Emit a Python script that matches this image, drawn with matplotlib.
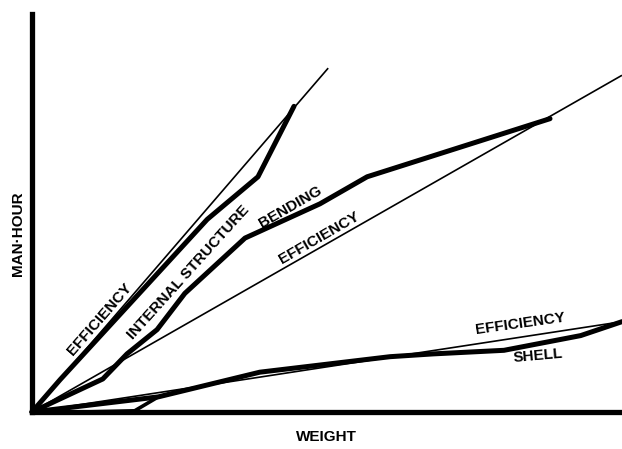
import matplotlib
matplotlib.use("Agg")
import matplotlib.pyplot as plt

# Data (weight vs man-hour, arbitrary units 0-100)
int_eff_x = [0, 50.2]
int_eff_y = [0, 86.4]
int_x = [0, 4.75, 29.7, 38.3, 44.4]
int_y = [0, 8.1, 48.4, 59.1, 76.8]

bend_eff_x = [0, 100]
bend_eff_y = [0, 84.6]
bend_x = [0, 12.0, 16.1, 21.2, 25.9, 36.1, 48.8, 56.8, 87.8]
bend_y = [0, 8.3, 14.6, 20.7, 29.8, 43.7, 52.3, 59.1, 73.7]

shell_eff_x = [0, 100]
shell_eff_y = [0, 22.7]
shell_x = [0, 21.4, 38.6, 60.7, 68, 80, 93, 100]
shell_y = [0, 3.8, 10.0, 13.9, 14.6, 15.5, 19.2, 22.7]
shell_base_x = [8.5, 17.4, 21.4]
shell_base_y = [0.0, 0.3, 3.8]

W, H = 622, 449
fig = plt.figure(figsize=(W / 100, H / 100), dpi=100)
ax = fig.add_axes([32 / W, (H - 412) / H, 590 / W, (412 - 14) / H])
ax.set_xlim(0, 100)
ax.set_ylim(0, 100)

thin = dict(color="black", lw=1.2, clip_on=False, solid_capstyle="butt")
thick = dict(color="black", lw=3.6, clip_on=False, solid_capstyle="round",
             solid_joinstyle="round")

ax.plot(int_eff_x, int_eff_y, **thin)
ax.plot(int_x, int_y, **thick)
ax.plot(bend_eff_x, bend_eff_y, **thin)
ax.plot(bend_x, bend_y, **thick)
ax.plot(shell_eff_x, shell_eff_y, **thin)
ax.plot(shell_x, shell_y, **thick)
ax.plot(shell_base_x, shell_base_y, color="black", lw=2.6, clip_on=False,
        solid_capstyle="round")

for s in ["top", "right"]:
    ax.spines[s].set_visible(False)
for s in ["left", "bottom"]:
    ax.spines[s].set_linewidth(3.8)
ax.set_xticks([])
ax.set_yticks([])

font = dict(family="Liberation Sans", weight="bold", fontsize=11, color="black")

def px(x, y):
    # figure pixel -> figure fraction helper for labels
    return x / W, 1 - y / H

fig.text(*px(18, 234), "MAN·HOUR", rotation=90, ha="center", va="center", **font)
fig.text(*px(326, 437), "WEIGHT", ha="center", va="center", **font)

ax.annotate("EFFICIENCY", xy=px(100, 319), xycoords="figure fraction",
            rotation=49, ha="center", va="center", rotation_mode="anchor", **font)
ax.annotate("INTERNAL STRUCTURE", xy=px(188, 272), xycoords="figure fraction",
            rotation=48, ha="center", va="center", rotation_mode="anchor", **font)
ax.annotate("BENDING", xy=px(290, 207), xycoords="figure fraction",
            rotation=30, ha="center", va="center", rotation_mode="anchor", **font)
ax.annotate("EFFICIENCY", xy=px(319, 238), xycoords="figure fraction",
            rotation=30, ha="center", va="center", rotation_mode="anchor", **font)
ax.annotate("EFFICIENCY", xy=px(520, 324), xycoords="figure fraction",
            rotation=8, ha="center", va="center", rotation_mode="anchor", **font)
ax.annotate("SHELL", xy=px(538, 356), xycoords="figure fraction",
            rotation=5, ha="center", va="center", rotation_mode="anchor", **font)

fig.savefig("out.png", dpi=100)
